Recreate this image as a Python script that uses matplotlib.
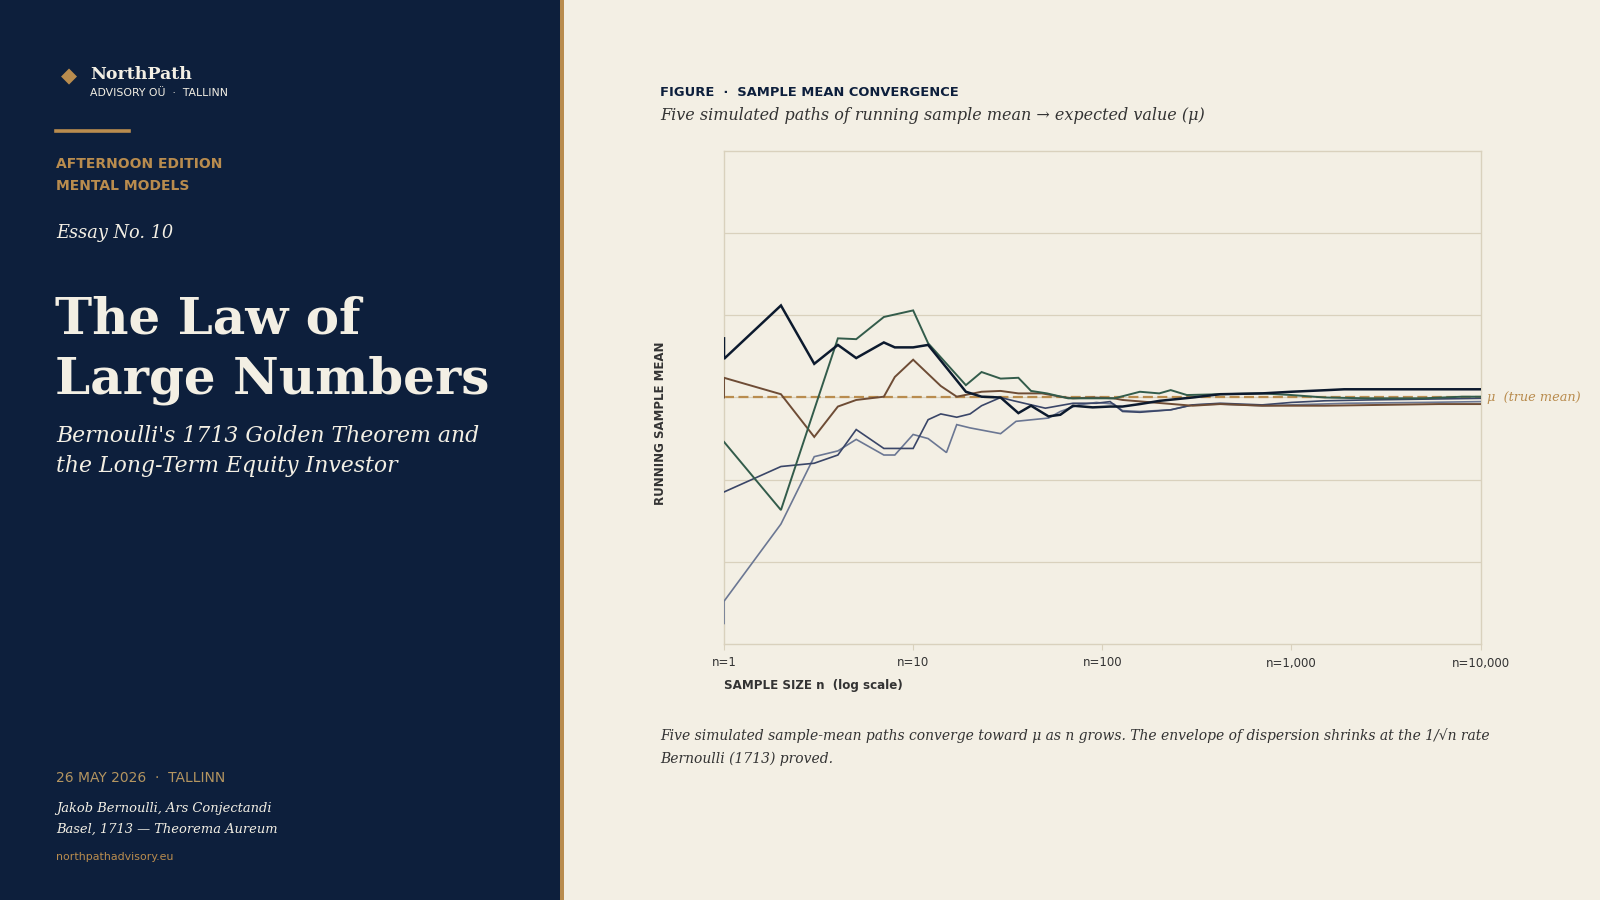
import matplotlib
matplotlib.use("Agg")
import matplotlib.pyplot as plt
import matplotlib.patches as patches
from matplotlib.ticker import FixedLocator, NullLocator

# palette
navy = '#0d1f3c'
cream = '#f3efe4'
gold = '#b98c4e'
ink = '#333333'
frame = '#d9d1bd'

# --- data: running sample mean of five simulated paths ---
mu = 0.5

n_p1 = [1, 1, 2, 3, 4, 5, 7, 8, 10, 12, 19, 23, 29, 36, 42, 52, 60, 70, 89, 110,
        128, 158, 202, 300, 420, 700, 1000, 1550, 1900, 10000]
mean_p1 = [0.572, 0.547, 0.612, 0.541, 0.564, 0.548, 0.567, 0.561, 0.561, 0.564,
           0.507, 0.501, 0.500, 0.481, 0.490, 0.477, 0.479, 0.490, 0.488, 0.489,
           0.489, 0.492, 0.496, 0.500, 0.504, 0.505, 0.507, 0.509, 0.510, 0.510]

n_p2 = [1, 2, 4, 5, 7, 10, 12, 19, 23, 29, 36, 42, 51, 66, 76, 116, 158, 200,
        230, 280, 420, 700, 1000, 1500, 2500, 5000, 8000, 10000]
mean_p2 = [0.446, 0.363, 0.572, 0.571, 0.598, 0.606, 0.566, 0.515, 0.531, 0.523,
           0.524, 0.508, 0.505, 0.499, 0.499, 0.499, 0.507, 0.505, 0.509, 0.503,
           0.504, 0.505, 0.503, 0.500, 0.499, 0.499, 0.501, 0.501]

n_p3 = [1, 1, 2, 3, 4, 5, 7, 8, 10, 14, 17, 23, 29, 36, 48, 60, 70, 90, 115, 128,
        300, 420, 700, 1500, 3000, 6000, 10000]
mean_p3 = [0.500, 0.524, 0.504, 0.452, 0.489, 0.497, 0.501, 0.525, 0.546, 0.514,
           0.501, 0.507, 0.508, 0.505, 0.505, 0.501, 0.499, 0.500, 0.499, 0.497,
           0.490, 0.492, 0.490, 0.490, 0.491, 0.492, 0.492]

n_p4 = [1, 1, 2, 3, 4, 5, 7, 8, 10, 12, 15, 17, 20, 29, 35, 52, 60, 75, 93, 115,
        128, 158, 230, 300, 420, 700, 1000, 2000, 5000, 10000]
mean_p4 = [0.225, 0.252, 0.346, 0.428, 0.435, 0.449, 0.430, 0.430, 0.455, 0.450,
           0.433, 0.467, 0.463, 0.456, 0.471, 0.475, 0.483, 0.491, 0.494, 0.492,
           0.484, 0.483, 0.485, 0.491, 0.492, 0.490, 0.491, 0.493, 0.494, 0.495]

n_p5 = [1, 2, 3, 4, 5, 7, 10, 12, 14, 17, 20, 23, 29, 34, 50, 70, 93, 110, 128,
        158, 230, 300, 420, 700, 1000, 1500, 2500, 5000, 10000]
mean_p5 = [0.385, 0.416, 0.420, 0.430, 0.461, 0.438, 0.438, 0.473, 0.480, 0.476,
           0.480, 0.490, 0.500, 0.496, 0.487, 0.493, 0.493, 0.495, 0.483, 0.482,
           0.485, 0.491, 0.493, 0.491, 0.494, 0.496, 0.497, 0.498, 0.499]

x_ticks = [1, 10, 100, 1000, 10000]
x_ticklabels = ['n=1', 'n=10', 'n=100', 'n=1,000', 'n=10,000']
y_grid = [0.3, 0.4, 0.5, 0.6, 0.7]

paths = [
    (n_p4, mean_p4, '#6b7793', 1.2),
    (n_p5, mean_p5, '#3a4668', 1.2),
    (n_p3, mean_p3, '#6e4c35', 1.4),
    (n_p2, mean_p2, '#335c4b', 1.4),
    (n_p1, mean_p1, '#0c1a2e', 1.8),
]

W, H = 1600, 900
fig = plt.figure(figsize=(16, 9), dpi=100, facecolor=cream)


def P(x, y):
    # pixel coords (top-left origin) -> figure fraction
    return x / W, 1 - y / H


def ftext(x, y, s, **kw):
    fx, fy = P(x, y)
    kw.setdefault('va', 'center')
    kw.setdefault('ha', 'left')
    fig.text(fx, fy, s, **kw)


# left panel + gold strip
fig.add_artist(patches.Rectangle((0, 0), 560 / W, 1, transform=fig.transFigure,
                                 facecolor=navy, edgecolor='none', zorder=0))
fig.add_artist(patches.Rectangle((560 / W, 0), 4 / W, 1, transform=fig.transFigure,
                                 facecolor=gold, edgecolor='none', zorder=0))

serif = 'DejaVu Serif'
sans = 'DejaVu Sans'

# masthead
ftext(61, 76, '\u25C6', color=gold, fontsize=15, family=sans)
ftext(90, 74.5, 'NorthPath', color=cream, fontsize=12.5, family=serif, fontweight='bold')
ftext(90, 93, 'ADVISORY O\u00dc  \u00b7  TALLINN', color=cream, fontsize=7.8, family=sans)
fig.add_artist(plt.Line2D([56 / W, 129 / W], [1 - 131 / H] * 2, transform=fig.transFigure,
                          color=gold, lw=2.6))
ftext(56, 164.5, 'AFTERNOON EDITION', color=gold, fontsize=10, family=sans, fontweight='bold')
ftext(56, 186, 'MENTAL MODELS', color=gold, fontsize=10, family=sans, fontweight='bold')
ftext(56, 233, 'Essay No. 10', color=cream, fontsize=12.8, family=serif, style='italic')

ftext(55, 320, 'The Law of', color=cream, fontsize=36, family=serif, fontweight='bold')
ftext(55, 380, 'Large Numbers', color=cream, fontsize=36, family=serif, fontweight='bold')
ftext(56, 436, "Bernoulli's 1713 Golden Theorem and", color=cream, fontsize=15.8,
      family=serif, style='italic')
ftext(56, 466, 'the Long-Term Equity Investor', color=cream, fontsize=15.8,
      family=serif, style='italic')

ftext(56, 778, '26 MAY 2026  \u00b7  TALLINN', color='#b49560', fontsize=10, family=sans)
ftext(56, 808.5, 'Jakob Bernoulli, Ars Conjectandi', color=cream, fontsize=9.35,
      family=serif, style='italic')
ftext(56, 829, 'Basel, 1713 \u2014 Theorema Aureum', color=cream, fontsize=9.35,
      family=serif, style='italic')
ftext(56, 857.5, 'northpathadvisory.eu', color=gold, fontsize=7.9, family=sans)

# right panel headings
ftext(660, 92.5, 'FIGURE  \u00b7  SAMPLE MEAN CONVERGENCE', color=navy, fontsize=9.4,
      family=sans, fontweight='bold')
ftext(660, 116, 'Five simulated paths of running sample mean \u2192 expected value (\u03bc)',
      color=ink, fontsize=11.5, family=serif, style='italic')

# chart
ax = fig.add_axes([724 / W, 1 - 644 / H, (1480.6 - 724) / W, (644 - 151) / H])
ax.set_facecolor(cream)
ax.set_xscale('log')
ax.set_xlim(1, 10000)
ax.set_ylim(0.2, 0.8)

for spine in ax.spines.values():
    spine.set_color(frame)
    spine.set_linewidth(1.0)

ax.xaxis.set_major_locator(FixedLocator(x_ticks))
ax.xaxis.set_minor_locator(NullLocator())
ax.set_xticklabels(x_ticklabels)
ax.tick_params(axis='x', length=4, color=frame, labelcolor=ink, labelsize=8.5, pad=5)
ax.yaxis.set_major_locator(FixedLocator(y_grid))
ax.yaxis.set_minor_locator(NullLocator())
ax.tick_params(axis='y', length=0, labelleft=False)
ax.grid(axis='y', color=frame, lw=0.9)
ax.set_axisbelow(True)

for n, m, c, lw in paths:
    ax.plot(n, m, color=c, lw=lw, solid_joinstyle='miter', zorder=3)

ax.axhline(mu, color=gold, lw=1.6, ls=(0, (4.5, 2)), zorder=2)
ax.text(1.008, mu, '\u03bc  (true mean)', transform=ax.get_yaxis_transform(),
        color=gold, fontsize=9.3, family=serif, style='italic', va='center', ha='left',
        clip_on=False)

ftext(724, 685.5, 'SAMPLE SIZE n  (log scale)', color=ink, fontsize=8.6, family=sans,
      fontweight='bold')
fig.text(*P(660, 423.5), 'RUNNING SAMPLE MEAN', color=ink, fontsize=8.5, family=sans,
         fontweight='bold', rotation=90, ha='center', va='center')

ftext(660, 736, 'Five simulated sample-mean paths converge toward \u03bc as n grows. '
      'The envelope of dispersion shrinks at the 1/\u221an rate',
      color=ink, fontsize=10, family=serif, style='italic')
ftext(660, 758.5, 'Bernoulli (1713) proved.', color=ink, fontsize=10, family=serif,
      style='italic')

fig.savefig('out.png', dpi=100, facecolor=cream)
